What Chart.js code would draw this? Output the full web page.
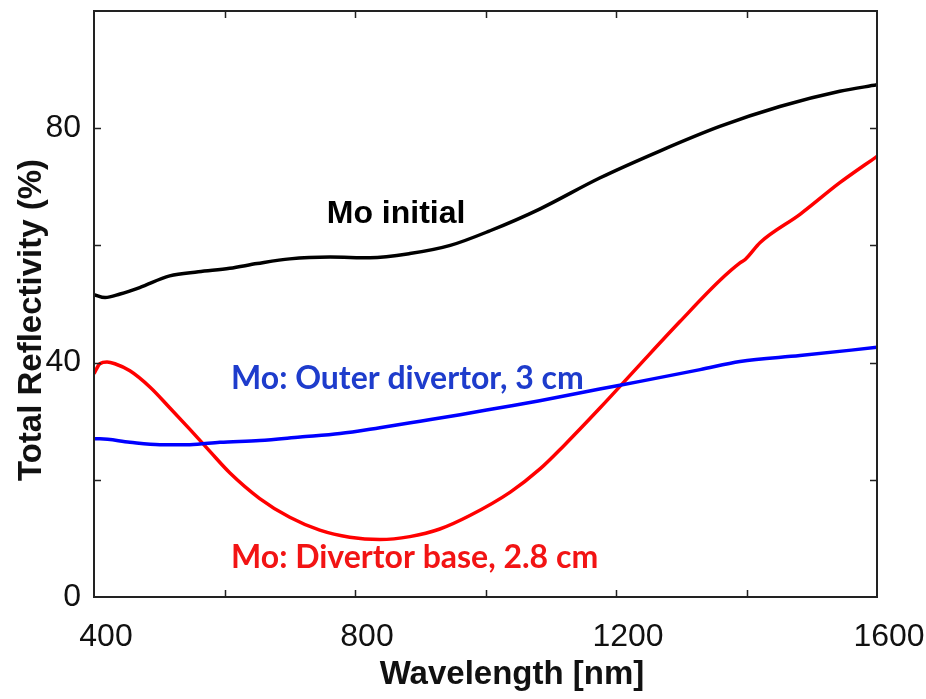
<!DOCTYPE html>
<html lang="en">
  <head>
    <meta charset="UTF-8" />
    <meta name="viewport" content="width=device-width, initial-scale=1.0" />
    <script src="https://cdn.jsdelivr.net/npm/chart.js"></script>
    <title>Total Reflectivity</title>
    <style>
      body { margin: 0; background: #fff; }
    </style>
  </head>
  <body>
    <canvas id="myChart" width="926" height="699"></canvas>
    <script>
      // data (wavelength in nm, reflectivity in %)
      const initialWl = [400, 417, 440, 470, 516, 560, 608, 650, 700, 762, 823, 884, 946, 1007, 1083, 1175, 1267, 1359, 1451, 1543, 1600];
      const initialR = [51.6, 51.1, 51.7, 52.8, 54.8, 55.5, 56.1, 56.9, 57.7, 58.0, 57.9, 58.6, 60.0, 62.5, 66.2, 71.5, 76.1, 80.3, 83.7, 86.3, 87.4];

      const outerWl = [400, 409, 455, 501, 547, 593, 654, 716, 777, 838, 900, 961, 1022, 1083, 1175, 1237, 1329, 1390, 1482, 1600];
      const outerR = [27.0, 27.0, 26.4, 26.0, 26.0, 26.4, 26.7, 27.3, 27.9, 28.9, 30.0, 31.1, 32.3, 33.5, 35.5, 36.8, 38.8, 40.2, 41.2, 42.6];

      const baseWl = [400, 409, 420, 432, 455, 486, 516, 547, 578, 608, 654, 700, 746, 792, 838, 884, 930, 976, 1038, 1084, 1119, 1175, 1237, 1298, 1359, 1390, 1398, 1421, 1482, 1543, 1600];
      const baseR = [38.1, 39.8, 40.1, 39.8, 38.6, 35.8, 32.3, 28.6, 24.8, 21.2, 16.8, 13.6, 11.4, 10.2, 9.8, 10.3, 11.6, 13.9, 17.9, 21.9, 25.7, 32.2, 39.7, 47.0, 54.0, 57.0, 57.6, 60.5, 65.3, 70.7, 75.2];

      const xTickLabels = [400, 800, 1200, 1600];
      const yTickLabels = [0, 40, 80];
      const xTickMarks = [600, 800, 1000, 1200, 1400];
      const yTickMarks = [20, 40, 60, 80];

      const seriesNames = ["Mo initial", "Mo: Outer divertor, 3 cm", "Mo: Divertor base, 2.8 cm"];

      const toPoints = (xs, ys) => xs.map((x, i) => ({ x: x, y: ys[i] }));

      const sans = "'Liberation Sans', Arial, sans-serif";

      // frame with inward ticks on all four sides, axis titles and curve labels
      const decor = {
        id: "decor",
        afterDraw(chart) {
          const { ctx, chartArea: a, scales } = chart;
          const xs = scales.x, ys = scales.y;
          ctx.save();
          ctx.strokeStyle = "#222";
          ctx.lineWidth = 2;
          ctx.strokeRect(a.left, a.top, a.right - a.left, a.bottom - a.top);
          ctx.lineWidth = 1.5;
          ctx.beginPath();
          xTickMarks.forEach((v) => {
            const p = Math.round(xs.getPixelForValue(v)) + 0.5;
            ctx.moveTo(p, a.bottom); ctx.lineTo(p, a.bottom - 7);
            ctx.moveTo(p, a.top); ctx.lineTo(p, a.top + 7);
          });
          yTickMarks.forEach((v) => {
            const p = Math.round(ys.getPixelForValue(v)) + 0.5;
            ctx.moveTo(a.left, p); ctx.lineTo(a.left + 7, p);
            ctx.moveTo(a.right, p); ctx.lineTo(a.right - 7, p);
          });
          ctx.stroke();

          // axis titles
          ctx.fillStyle = "#111";
          ctx.font = "bold 33px " + sans;
          ctx.textAlign = "center";
          ctx.textBaseline = "alphabetic";
          ctx.fillText("Wavelength [nm]", 512, 684);
          ctx.save();
          ctx.translate(41, 320);
          ctx.rotate(-Math.PI / 2);
          ctx.fillText("Total Reflectivity (%)", 0, 0);
          ctx.restore();

          // curve labels
          ctx.textAlign = "center";
          ctx.fillStyle = "#000";
          ctx.font = "bold 32px " + sans;
          ctx.fillText(seriesNames[0], xs.getPixelForValue(863), ys.getPixelForValue(63.8));
          ctx.textAlign = "left";
          ctx.font = "bold 32px Lato, " + sans;
          ctx.fillStyle = "#1e3ccc";
          ctx.fillText(seriesNames[1], xs.getPixelForValue(610), ys.getPixelForValue(35.5));
          ctx.fillStyle = "#f21414";
          ctx.fillText(seriesNames[2], xs.getPixelForValue(610), ys.getPixelForValue(4.9));
          ctx.restore();
        },
      };

      const line = (label, pts, color) => ({
        label: label,
        data: pts,
        borderColor: color,
        borderWidth: 3.5,
        pointRadius: 0,
        tension: 0.4,
        cubicInterpolationMode: "monotone",
        fill: false,
      });

      new Chart(document.getElementById("myChart"), {
        type: "line",
        data: {
          datasets: [
            line(seriesNames[0], toPoints(initialWl, initialR), "#000000"),
            line(seriesNames[1], toPoints(outerWl, outerR), "#0000ff"),
            line(seriesNames[2], toPoints(baseWl, baseR), "#ff0000"),
          ],
        },
        options: {
          responsive: false,
          animation: false,
          layout: { padding: { top: 11, right: 49, left: 0, bottom: 0 } },
          plugins: { legend: { display: false }, tooltip: { enabled: false } },
          scales: {
            x: {
              type: "linear",
              min: 400,
              max: 1600,
              grid: { display: false },
              border: { display: false },
              ticks: {
                color: "#111", font: { family: sans, size: 32 }, padding: 13, maxRotation: 0, labelOffset: 12,
                callback: (v) => String(v),
              },
              afterBuildTicks: (s) => { s.ticks = xTickLabels.map((v) => ({ value: v })); },
              afterFit: (s) => { s.height = 102; s.paddingLeft = 0; s.paddingRight = 0; },
            },
            y: {
              min: 0,
              max: 100,
              grid: { display: false },
              border: { display: false },
              ticks: { color: "#111", font: { family: sans, size: 32 }, padding: 5, callback: (v) => String(v) },
              afterBuildTicks: (s) => { s.ticks = yTickLabels.map((v) => ({ value: v })); },
              afterFit: (s) => { s.width = 94; s.paddingTop = 0; s.paddingBottom = 0; },
            },
          },
        },
        plugins: [decor],
      });
    </script>
  </body>
</html>
